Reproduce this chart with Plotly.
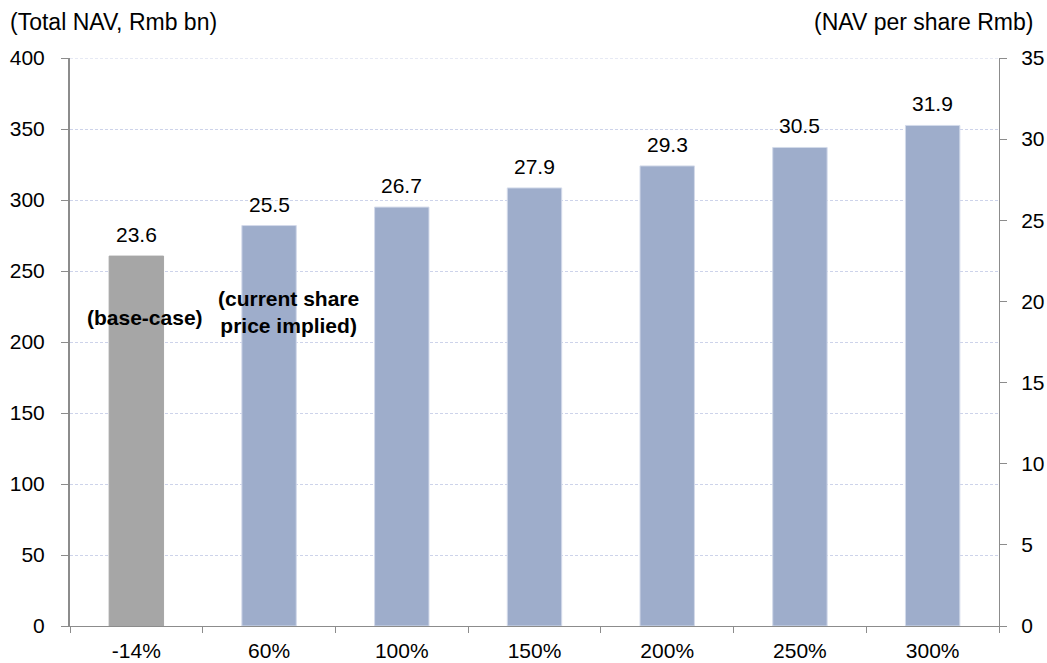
import plotly.graph_objects as go

# Scenario axis: change in land value assumption
categories = ["-14%", "60%", "100%", "150%", "200%", "250%", "300%"]
# Total NAV (Rmb bn), left axis
total_nav = [260.5, 282, 295, 308.5, 324, 337, 352.5]
# NAV per share (Rmb), shown above bars
nav_per_share = [23.6, 25.5, 26.7, 27.9, 29.3, 30.5, 31.9]

left_ticks = [0, 50, 100, 150, 200, 250, 300, 350, 400]
right_ticks = [0, 5, 10, 15, 20, 25, 30, 35]

FONT = "Liberation Sans, Arial, sans-serif"
GREY_BAR = "#a6a6a6"
BLUE_BAR = "#9eadcb"
AXIS = "#8c8c8c"
GRID = "#cdd3ea"

bar_colors = [GREY_BAR] + [BLUE_BAR] * (len(categories) - 1)
edge_colors = [GREY_BAR] + ["#d3daea"] * (len(categories) - 1)

fig = go.Figure()
fig.add_trace(go.Bar(
    x=categories, y=total_nav,
    marker=dict(color=bar_colors, line=dict(color=edge_colors, width=1)),
    width=0.41, yaxis="y", showlegend=False, hoverinfo="skip",
))
# invisible trace to anchor the right-hand axis
fig.add_trace(go.Scatter(
    x=categories, y=nav_per_share, yaxis="y2", mode="markers",
    marker=dict(opacity=0), showlegend=False, hoverinfo="skip",
))

# per-share labels above bars
for c, v, s in zip(categories, total_nav, nav_per_share):
    fig.add_annotation(
        x=c, y=v, xref="x", yref="y", text=f"{s:.1f}", showarrow=False,
        yanchor="bottom", yshift=8, font=dict(family=FONT, size=21, color="#000"),
    )

fig.add_annotation(
    x=categories[0], y=217, xref="x", yref="y", text="<b>(base-case)</b>",
    showarrow=False, xshift=9, font=dict(family=FONT, size=21, color="#000"),
)
fig.add_annotation(
    x=categories[1], y=221, xref="x", yref="y",
    text="<b>(current share<br>price implied)</b>", showarrow=False, xshift=19,
    font=dict(family=FONT, size=21, color="#000"), align="center",
)

# axis titles
fig.add_annotation(
    x=-0.0667, y=1.063, xref="paper", yref="paper", text="(Total NAV, Rmb bn)",
    showarrow=False, xanchor="left", yanchor="middle",
    font=dict(family=FONT, size=23, color="#000"),
)
fig.add_annotation(
    x=1.0388, y=1.063, xref="paper", yref="paper", text="(NAV per share Rmb)",
    showarrow=False, xanchor="right", yanchor="middle",
    font=dict(family=FONT, size=23, color="#000"),
)

# top gridline at the upper range limit
fig.add_shape(
    type="line", xref="paper", yref="y", x0=0, x1=1, y0=400, y1=400,
    line=dict(color=GRID, width=1, dash="3px,2px"), layer="below",
)

fig.update_layout(
    width=1047, height=663,
    margin=dict(l=70, r=48, t=58, b=37),
    paper_bgcolor="white", plot_bgcolor="white",
    font=dict(family=FONT, size=21, color="#000"),
    xaxis=dict(
        type="category", showline=True, linecolor=AXIS, linewidth=1,
        ticks="outside", tickson="boundaries", ticklen=6, tickcolor=AXIS,
        showgrid=False, tickfont=dict(family=FONT, size=21),
        ticklabelstandoff=6, automargin=False,
    ),
    yaxis=dict(
        range=[0, 400], tickvals=left_ticks, showline=True, linecolor=AXIS,
        linewidth=2, ticks="outside", ticklen=7, tickcolor=AXIS,
        showgrid=True, gridcolor=GRID, griddash="3px,2px", gridwidth=1,
        zeroline=False, tickfont=dict(family=FONT, size=21),
        ticklabelstandoff=12, automargin=False,
    ),
    yaxis2=dict(
        range=[0, 35], tickvals=right_ticks, overlaying="y", side="right",
        showline=True, linecolor=AXIS, linewidth=1, ticks="outside", ticklen=7,
        tickcolor=AXIS, showgrid=False, zeroline=False,
        tickfont=dict(family=FONT, size=21), ticklabelstandoff=10,
        automargin=False,
    ),
)

fig.write_html("out.html")
